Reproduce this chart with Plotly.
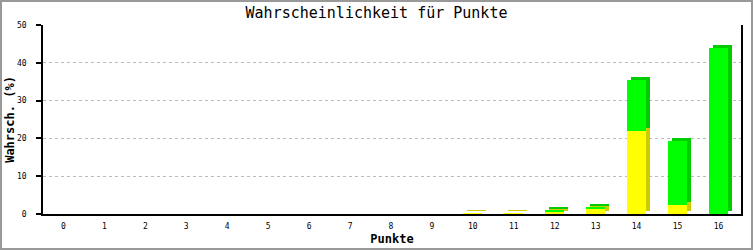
import plotly.graph_objects as go

punkte = list(range(17))
tick_labels = [str(p) for p in punkte]
gelb = [0, 0, 0, 0, 0, 0, 0, 0, 0, 0, 0.2, 0.2, 0.65, 1.5, 22.0, 2.4, 0]
gruen = [0, 0, 0, 0, 0, 0, 0, 0, 0, 0, 0, 0, 0.3, 0.35, 13.4, 17.0, 43.9]

W, H = 753, 250
ML, MR, MT, MB = 43, 12, 25, 36
PW, PH = W - ML - MR, H - MT - MB

bar_w = 0.47
depth_x = 0.09  # side depth in category units
depth_y = 0.8   # top depth in value units

fig = go.Figure()
# 3D side/top shadows
fig.add_trace(go.Bar(x=punkte, y=gelb, base=[depth_y] * len(punkte),
                     width=bar_w, offset=-bar_w / 2 + depth_x,
                     marker=dict(color="#cccc00", line=dict(width=0)),
                     hoverinfo="skip", showlegend=False))
fig.add_trace(go.Bar(x=punkte, y=gruen, base=[g + depth_y for g in gelb],
                     width=bar_w, offset=-bar_w / 2 + depth_x,
                     marker=dict(color="#00cc00", line=dict(width=0)),
                     hoverinfo="skip", showlegend=False))
# front faces
fig.add_trace(go.Bar(x=punkte, y=gelb, base=[0] * len(punkte),
                     width=bar_w, offset=-bar_w / 2,
                     marker=dict(color="#ffff00", line=dict(width=0)),
                     showlegend=False))
fig.add_trace(go.Bar(x=punkte, y=gruen, base=gelb,
                     width=bar_w, offset=-bar_w / 2,
                     marker=dict(color="#00ff00", line=dict(width=0)),
                     showlegend=False))

mono = "DejaVu Sans Mono"
fig.update_layout(
    width=W, height=H,
    margin=dict(l=ML, r=MR, t=MT, b=MB, pad=0, autoexpand=False),
    paper_bgcolor="white", plot_bgcolor="white",
    barmode="overlay", bargap=0,
    title=dict(text="Wahrscheinlichkeit für Punkte", x=0.5, xref="container",
               xanchor="center", y=1 - 13 / H, yanchor="middle",
               font=dict(family=mono, size=15, color="black")),
    xaxis=dict(range=[-0.5, 16.55], tickmode="array", tickvals=punkte,
               ticktext=tick_labels, showgrid=False, zeroline=False,
               automargin=False,
               showline=True, linecolor="black", linewidth=1.5, ticks="",
               ticklabelstandoff=4,
               tickfont=dict(family=mono, size=8, color="black"),
               title=dict(text="<b>Punkte</b>", standoff=4,
                          font=dict(family=mono, size=12, color="black"))),
    yaxis=dict(range=[0, 50], tickvals=[0, 10, 20, 30, 40, 50],
               showgrid=True, gridcolor="#bbbbbb", griddash="dot", gridwidth=1,
               zeroline=False, showline=True, mirror=True, linecolor="black",
               automargin=False,
               linewidth=1.5, ticks="outside", ticklen=5, tickcolor="black",
               tickwidth=1.5, ticklabelstandoff=8,
               tickfont=dict(family=mono, size=8, color="black"),
               title=dict(text="<b>Wahrsch. (%)</b>", standoff=0,
                          font=dict(family=mono, size=12, color="black"))),
    shapes=[dict(type="rect", xref="paper", yref="paper",
                 x0=-(ML - 1) / PW, x1=1 + (MR - 1) / PW,
                 y0=-(MB - 1) / PH, y1=1 + (MT - 1) / PH,
                 line=dict(color="#999999", width=2), layer="below")],
)

fig.write_html("out.html")
